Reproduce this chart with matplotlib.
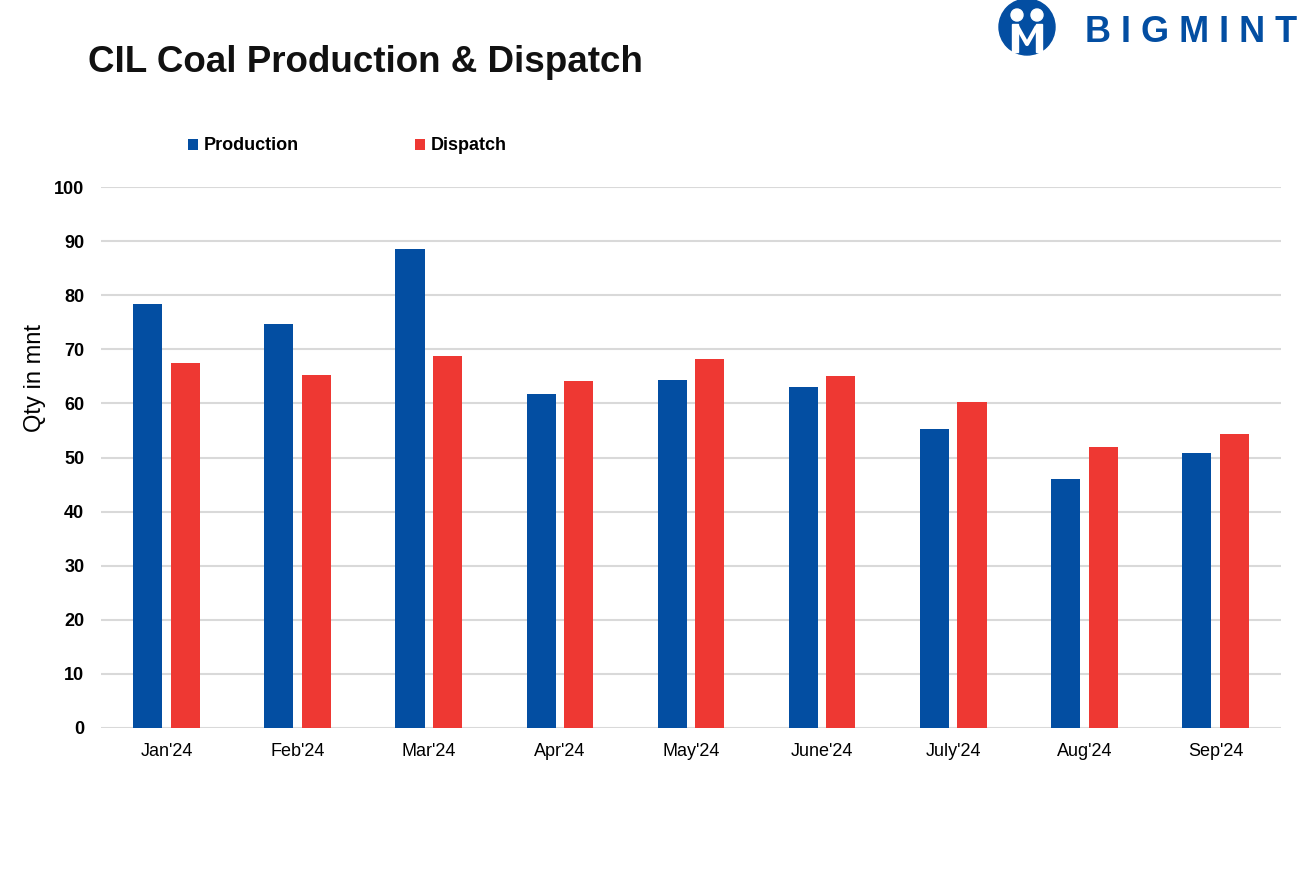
import numpy as np
from matplotlib import pyplot as plt
from matplotlib.patches import Circle, Rectangle

# Data
months = ["Jan'24", "Feb'24", "Mar'24", "Apr'24", "May'24", "June'24", "July'24", "Aug'24", "Sep'24"]
production = [78.4, 74.7, 88.5, 61.7, 64.3, 63.0, 55.3, 46.0, 50.8]
dispatch = [67.5, 65.2, 68.8, 64.1, 68.2, 65.1, 60.3, 51.9, 54.3]

blue = "#034EA2"
red = "#EE3833"

plt.rcParams['font.family'] = ['Liberation Sans', 'DejaVu Sans']

fig = plt.figure(figsize=(13.14, 8.76), dpi=100)
ax = fig.add_axes([101 / 1314, 1 - 728 / 876, 1180 / 1314, 541 / 876])

x = np.arange(len(months))
width = 0.222
ax.bar(x - 0.143, production, width, color=blue, label="Production", zorder=3)
ax.bar(x + 0.143, dispatch, width, color=red, label="Dispatch", zorder=3)

ax.set_xlim(-0.5, len(months) - 0.5)
ax.set_ylim(0, 100)
ax.set_yticks(range(0, 101, 10))
ax.set_xticks(x)
ax.set_xticklabels(months, fontsize=13)
for lab in ax.get_yticklabels():
    lab.set_fontweight("bold")
    lab.set_fontsize(13)
ax.tick_params(length=0, pad=12)
ax.tick_params(axis='x', pad=11)
ax.grid(axis='y', color="#D9D9D9", linewidth=1.5, zorder=0)
for s in ax.spines.values():
    s.set_visible(False)
ax.set_ylabel("Qty in mnt", fontsize=17)
ax.yaxis.set_label_coords(-0.047, 0.647)

fig.legend(loc="center left", bbox_to_anchor=(172 / 1314, 1 - 146 / 876), ncol=2,
           frameon=False, handlelength=0.55, handleheight=0.55, handletextpad=0.3,
           columnspacing=6.45, prop={'weight': 'bold', 'size': 13})

fig.text(88 / 1314, 1 - 63 / 876, "CIL Coal Production & Dispatch", fontsize=26.5,
         fontweight="bold", va="center", ha="left", color="#111111")

# Logo
lax = fig.add_axes([995 / 1314, 1 - 58 / 876, 64 / 1314, 58 / 876])
lax.set_xlim(0, 64)
lax.set_ylim(0, 58)
lax.set_aspect('equal')
lax.axis('off')
lax.add_patch(Circle((32, 31), 28, color=blue))
lax.add_patch(Circle((22, 43), 6, color="white"))
lax.add_patch(Circle((42, 43), 6, color="white"))
lax.add_patch(Rectangle((17, 6), 6, 28, color="white"))
lax.add_patch(Rectangle((41, 6), 6, 28, color="white"))
lax.plot([23, 32, 41], [30, 14, 30], color="white", linewidth=3)
fig.text(1085 / 1314, 1 - 32 / 876, "B I G M I N T", fontsize=26, fontweight="heavy",
         color=blue, va="center", ha="left")

fig.savefig("out.png", dpi=100)
